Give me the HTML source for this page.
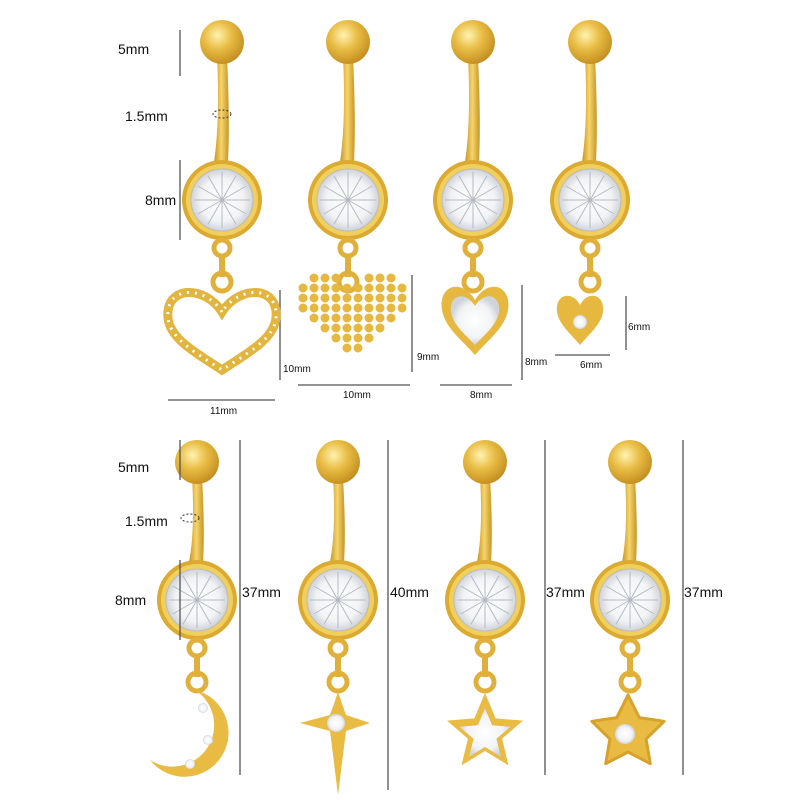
<!DOCTYPE html>
<html><head><meta charset="utf-8"><style>
html,body{margin:0;padding:0;background:#fff;width:800px;height:800px;overflow:hidden}
svg{display:block}
text{font-family:"Liberation Sans",sans-serif;fill:#111}
</style></head><body>
<svg id="s" width="800" height="800" viewBox="0 0 800 800" xmlns="http://www.w3.org/2000/svg">
<defs>
<radialGradient id="ball" cx="0.4" cy="0.35" r="0.7"><stop offset="0" stop-color="#fff3b0"/><stop offset="0.45" stop-color="#e9bd45"/><stop offset="1" stop-color="#c08a1c"/></radialGradient>
<linearGradient id="bar" x1="0" x2="1"><stop offset="0" stop-color="#c89424"/><stop offset="0.5" stop-color="#f5d56a"/><stop offset="1" stop-color="#c89424"/></linearGradient>
<radialGradient id="gem" cx="0.5" cy="0.5" r="0.5"><stop offset="0" stop-color="#ffffff"/><stop offset="0.7" stop-color="#f2f3f5"/><stop offset="1" stop-color="#cfd3da"/></radialGradient>
</defs>
<g id="g"></g>
<g font-size="14">
<text x="118" y="54">5mm</text>
<text x="125" y="121">1.5mm</text>
<text x="145" y="205">8mm</text>
<text x="210" y="414" font-size="10">11mm</text>
<text x="283" y="372" font-size="10">10mm</text>
<text x="343" y="398" font-size="10">10mm</text>
<text x="417" y="360" font-size="10">9mm</text>
<text x="470" y="398" font-size="10">8mm</text>
<text x="525" y="365" font-size="10">8mm</text>
<text x="580" y="368" font-size="10">6mm</text>
<text x="628" y="330" font-size="10">6mm</text>
<text x="118" y="472">5mm</text>
<text x="125" y="526">1.5mm</text>
<text x="115" y="605">8mm</text>
<text x="242" y="597">37mm</text>
<text x="390" y="597">40mm</text>
<text x="546" y="597">37mm</text>
<text x="684" y="597">37mm</text>
</g>
</svg>
<script>
var g=document.getElementById('g'),h='';
function ring(x,by,gy){
 h+='<path d="M'+(x-5)+','+(by+15)+' Q'+(x-2)+','+((by+gy)/2)+' '+(x-8)+','+(gy-38)+' L'+(x+6)+','+(gy-38)+' Q'+(x+8)+','+((by+gy)/2)+' '+(x+5)+','+(by+15)+'Z" fill="url(#bar)"/>';
 h+='<circle cx="'+x+'" cy="'+by+'" r="22" fill="url(#ball)"/>';
 h+='<circle cx="'+x+'" cy="'+gy+'" r="40" fill="#dcaa30"/><circle cx="'+x+'" cy="'+gy+'" r="36" fill="#f1cf5c"/><circle cx="'+x+'" cy="'+gy+'" r="31" fill="url(#gem)" stroke="#bbb" stroke-width="1"/>';
 for(var i=0;i<12;i++){var a=i*Math.PI/6;h+='<line x1="'+x+'" y1="'+gy+'" x2="'+(x+28*Math.cos(a))+'" y2="'+(gy+28*Math.sin(a))+'" stroke="#b5bac3" stroke-width="1"/>';}
 h+='<circle cx="'+x+'" cy="'+(gy+48)+'" r="8" fill="none" stroke="#e0b03a" stroke-width="5"/>';
 h+='<rect x="'+(x-3)+'" y="'+(gy+55)+'" width="6" height="22" fill="#e0b03a"/>';
 h+='<circle cx="'+x+'" cy="'+(gy+82)+'" r="9" fill="none" stroke="#e0b03a" stroke-width="5"/>';
}
function line(x1,y1,x2,y2){h+='<line x1="'+x1+'" y1="'+y1+'" x2="'+x2+'" y2="'+y2+'" stroke="#555" stroke-width="1.3"/>';}
ring(222,42,200);ring(348,42,200);ring(473,42,200);ring(590,42,200);
ring(197,462,600);ring(338,462,600);ring(485,462,600);ring(630,462,600);
line(180,30,180,76);line(180,160,180,240);line(168,400,275,400);line(280,290,280,380);
line(298,385,410,385);line(412,275,412,372);line(440,385,512,385);line(522,285,522,380);
line(555,355,610,355);line(626,296,626,350);
line(180,440,180,480);line(180,560,180,640);
line(240,440,240,775);line(388,440,388,790);line(545,440,545,775);line(683,440,683,775);
h+='<ellipse cx="222" cy="114" rx="9" ry="4" fill="none" stroke="#333" stroke-dasharray="2,2"/>';
h+='<ellipse cx="190" cy="518" rx="9" ry="4" fill="none" stroke="#333" stroke-dasharray="2,2"/>';
var hp='M222,312 C205,285 165,285 168,318 C170,340 200,355 222,370 C244,355 274,340 276,318 C279,285 239,285 222,312Z';
h+='<path d="'+hp+'" fill="none" stroke="#e2b53e" stroke-width="9"/><path d="'+hp+'" fill="none" stroke="#fff" stroke-width="3" stroke-dasharray="2,6"/>';
for(var r=0;r<9;r++)for(var c=0;c<10;c++){var px=303+c*11,py=278+r*10;var dx=Math.abs(px-355);
 var ok = r==0 ? (c>=1&&c<=3)||(c>=6&&c<=8) : r<4 ? true : dx<=55-(r-3)*11;
 if(ok)h+='<circle cx="'+px+'" cy="'+py+'" r="4.5" fill="#e6b840"/>';}
h+='<path d="M475,300 C462,278 438,285 442,310 C445,328 462,340 475,355 C488,340 505,328 508,310 C512,285 488,278 475,300Z" fill="#e6b840"/>';
h+='<path d="M475,306 C465,290 449,295 451,312 C453,325 465,334 475,345 C485,334 497,325 499,312 C501,295 485,290 475,306Z" fill="url(#gem)"/>';
h+='<path d="M580,305 C572,290 555,294 557,312 C559,325 572,335 580,345 C588,335 601,325 603,312 C605,294 588,290 580,305Z" fill="#e6b840"/><circle cx="580" cy="322" r="7" fill="url(#gem)"/>';
h+='<path d="M195,690 A44,44 0 1 1 150,760 A36,36 0 1 0 195,690Z" fill="#e9bb42"/>';
h+='<circle cx="203" cy="708" r="5" fill="url(#gem)"/><circle cx="208" cy="740" r="5" fill="url(#gem)"/><circle cx="190" cy="764" r="5" fill="url(#gem)"/>';
h+='<path d="M338,692 L346,715 L370,723 L346,731 L338,795 L330,731 L300,723 L330,715Z" fill="#e9bb42"/><circle cx="336" cy="723" r="9" fill="url(#gem)"/>';
function star(cx,cy,R,r0){var d='';for(var i=0;i<10;i++){var a=-Math.PI/2+i*Math.PI/5,rr=i%2?r0:R;d+=(i?'L':'M')+(cx+rr*Math.cos(a)).toFixed(1)+','+(cy+rr*Math.sin(a)).toFixed(1);}return d+'Z';}
h+='<path d="'+star(485,733,40,18)+'" fill="#e9bb42"/><path d="'+star(485,735,27,12)+'" fill="url(#gem)"/>';
h+='<path d="'+star(628,733,38,19)+'" fill="#e9bb42" stroke="#d6a22c" stroke-width="3" stroke-linejoin="round"/><circle cx="625" cy="734" r="10" fill="url(#gem)"/>';
g.innerHTML=h;
</script>
</body></html>
